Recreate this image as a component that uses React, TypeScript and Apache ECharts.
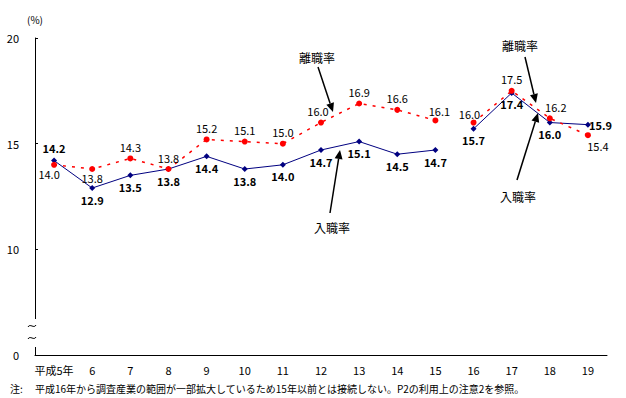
import React, { useEffect, useRef } from "react";
import * as echarts from "echarts";

const categories = ["平成5年", "6", "7", "8", "9", "10", "11", "12", "13", "14", "15", "16", "17", "18", "19"];
const entryRates = [14.2, 12.9, 13.5, 13.8, 14.4, 13.8, 14.0, 14.7, 15.1, 14.5, 14.7, 15.7, 17.4, 16.0, 15.9];
const separationRates = [14.0, 13.8, 14.3, 13.8, 15.2, 15.1, 15.0, 16.0, 16.9, 16.6, 16.1, 16.0, 17.5, 16.2, 15.4];
// index where the survey scope changes (平成16年); lines are not connected across it
const breakIndex = 11;
const yMin = 5; // compressed axis bottom, labeled "0"
const yMax = 20;
const yInterval = 5;

const FONT = "'Noto Sans CJK JP', 'Noto Sans', sans-serif";

const entryLabelTweaks: Record<number, any> = {
  0: { position: "top", distance: 4 },
  14: { position: "right", distance: 0, offset: [-2, 0] },
};
const sepLabelTweaks: Record<number, any> = {
  0: { position: "bottom", distance: 1, offset: [-5, 0] },
  1: { position: "bottom", distance: 0 },
  7: { offset: [-3, 0] },
  10: { distance: 1, offset: [4, 0] },
  11: { distance: 0, offset: [-4, 0] },
  13: { offset: [6, 0] },
  14: { position: "bottom", distance: 2, offset: [10, 0] },
};

function segment(values: number[], tweaks: Record<number, any>, first: boolean) {
  return values.map((v, i) => {
    const inSeg = first ? i < breakIndex : i >= breakIndex;
    if (!inSeg) return "-";
    return tweaks[i] ? { value: v, label: tweaks[i] } : { value: v };
  });
}

function arrow(x1: number, y1: number, x2: number, y2: number) {
  const dx = x2 - x1, dy = y2 - y1;
  const len = Math.hypot(dx, dy);
  const ux = dx / len, uy = dy / len;
  const hl = 9, hw = 4;
  const bx = x2 - ux * hl, by = y2 - uy * hl;
  return [
    { type: "line", z: 100, shape: { x1, y1, x2: bx, y2: by }, style: { stroke: "#000", lineWidth: 1.5 } },
    {
      type: "polygon",
      z: 100,
      shape: { points: [[x2, y2], [bx - uy * hw, by + ux * hw], [bx + uy * hw, by - ux * hw]] },
      style: { fill: "#000" },
    },
  ];
}

function tilde(cx: number, cy: number) {
  return {
    type: "bezierCurve",
    z: 100,
    shape: { x1: cx - 4, y1: cy + 1, cpx1: cx - 2, cpy1: cy - 3, cpx2: cx + 2, cpy2: cy + 3, x2: cx + 4, y2: cy - 1 },
    style: { stroke: "#000", lineWidth: 1, fill: null },
  };
}

function txt(x: number, y: number, text: string, fontSize: number, align = "center") {
  return {
    type: "text",
    z: 100,
    x,
    y,
    style: { text, fontSize, fontFamily: FONT, fill: "#000", align, verticalAlign: "middle" },
  };
}

export default function App() {
  const ref = useRef<HTMLDivElement>(null);
  useEffect(() => {
    if (!ref.current) return;
    const chart = echarts.init(ref.current, null, { renderer: "svg" });

    const entryLabel = {
      show: true,
      position: "bottom",
      distance: 3,
      fontSize: 11,
      fontWeight: "bold",
      fontFamily: FONT,
      color: "#000",
      formatter: (p: any) => Number(p.value).toFixed(1),
    };
    const sepLabel = {
      show: true,
      position: "top",
      distance: 3,
      fontSize: 11,
      fontFamily: FONT,
      color: "#000",
      formatter: (p: any) => Number(p.value).toFixed(1),
    };
    const entryStyle = {
      type: "line",
      symbol: "diamond",
      symbolSize: 6,
      lineStyle: { color: "#000080", width: 1 },
      itemStyle: { color: "#000080" },
      label: entryLabel,
      z: 3,
    };
    const sepStyle = {
      type: "line",
      symbol: "circle",
      symbolSize: 6,
      lineStyle: { color: "#ff0000", width: 1.5, type: [3, 6] },
      itemStyle: { color: "#ff0000" },
      label: sepLabel,
      z: 4,
    };

    chart.setOption({
      animation: false,
      backgroundColor: "#fff",
      grid: { left: 35, right: 19, top: 38, bottom: 43 },
      xAxis: {
        type: "category",
        data: categories,
        boundaryGap: true,
        axisLine: { lineStyle: { color: "#000", width: 1 } },
        axisTick: { show: false },
        axisLabel: { color: "#000", fontSize: 11, fontFamily: FONT, margin: 9, interval: 0 },
      },
      yAxis: {
        type: "value",
        min: yMin,
        max: yMax,
        interval: yInterval,
        name: "(%)",
        nameLocation: "end",
        nameGap: 14,
        nameTextStyle: { color: "#000", fontSize: 10, fontFamily: FONT, align: "center" },
        axisLine: { show: true, lineStyle: { color: "#000", width: 1 } },
        axisTick: { show: true, inside: true, length: 3, lineStyle: { color: "#000" } },
        axisLabel: {
          color: "#000",
          fontSize: 11,
          fontFamily: FONT,
          margin: 16,
          formatter: (v: number) => (v === yMin ? "0" : String(v)),
        },
        splitLine: { show: false },
      },
      series: [
        { ...entryStyle, name: "入職率", data: segment(entryRates, entryLabelTweaks, true) },
        { ...entryStyle, name: "入職率 ", data: segment(entryRates, entryLabelTweaks, false) },
        { ...sepStyle, name: "離職率", data: segment(separationRates, sepLabelTweaks, true) },
        { ...sepStyle, name: "離職率 ", data: segment(separationRates, sepLabelTweaks, false) },
      ],
      graphic: [
        // axis break
        { type: "rect", z: 99, shape: { x: 30, y: 319, width: 10, height: 28 }, style: { fill: "#fff" } },
        tilde(32, 326),
        tilde(32, 338),
        // annotations
        txt(317, 57, "離職率", 12),
        ...arrow(318, 67, 333, 112),
        txt(332, 227, "入職率", 12),
        ...arrow(330, 213, 340, 150),
        txt(520, 45, "離職率", 12),
        ...arrow(525, 57, 536, 103),
        txt(518, 196, "入職率", 12),
        ...arrow(517, 180, 538, 113),
        // footnote
        txt(10, 388, "注:", 10, "left"),
        txt(35, 388, "平成16年から調査産業の範囲が一部拡大しているため15年以前とは接続しない。P2の利用上の注意2を参照。", 10, "left"),
      ],
    });
    return () => chart.dispose();
  }, []);
  return (
    <div
      ref={ref}
      style={{ position: "fixed", left: 0, top: 0, width: 626, height: 398, background: "#fff" }}
    />
  );
}
